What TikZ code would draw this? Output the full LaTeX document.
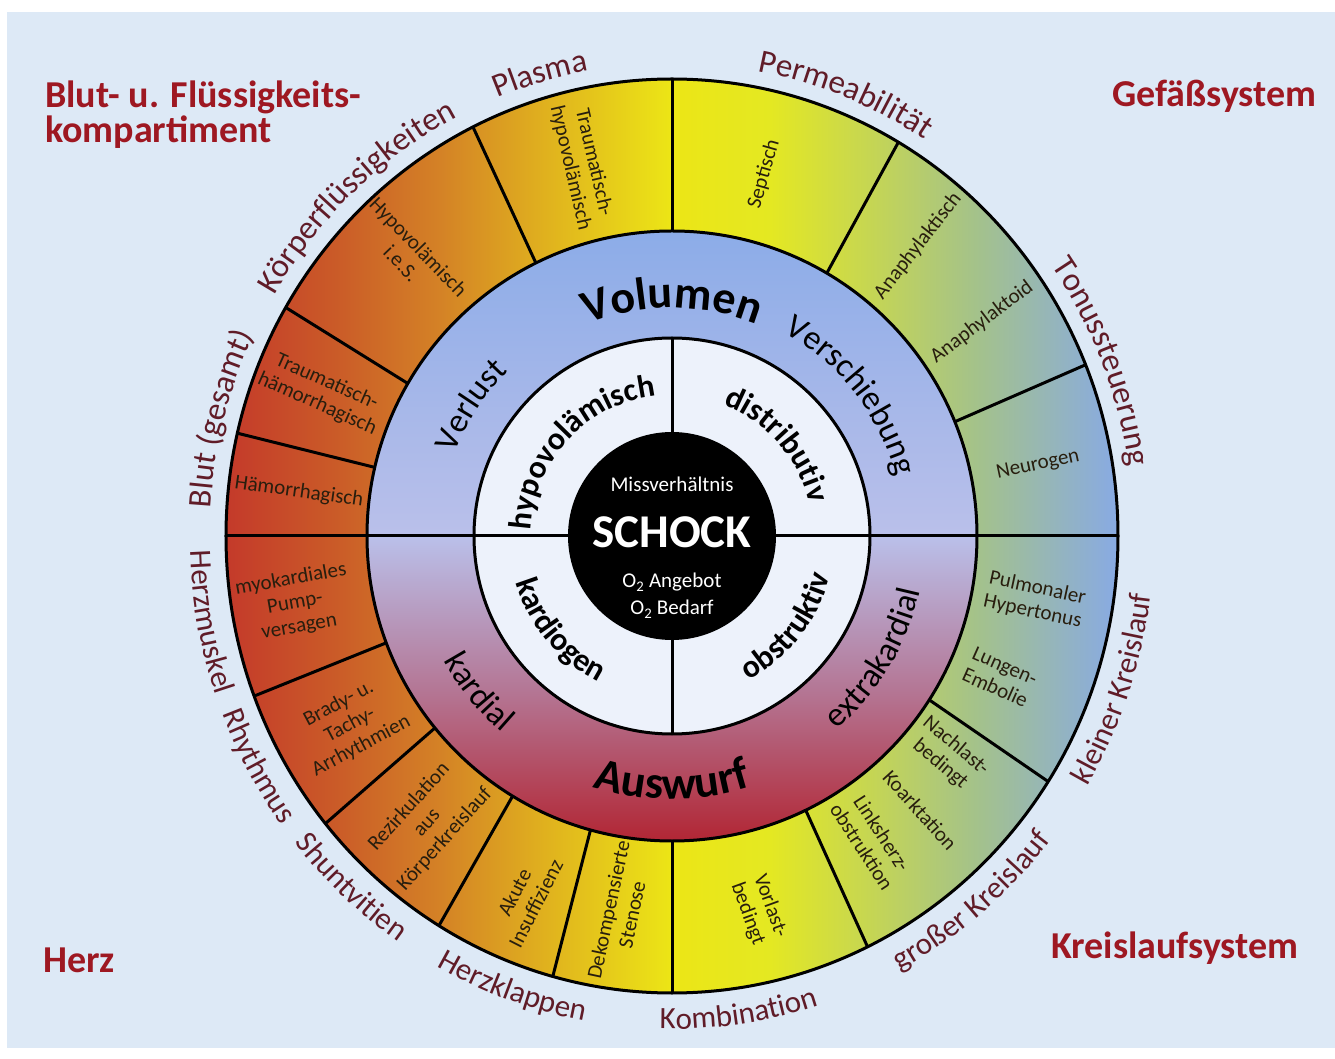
\documentclass[tikz,border=0pt]{standalone}
\usepackage{fontspec}
\setmainfont{Carlito}
\usetikzlibrary{decorations.text}

\definecolor{hintergrund}{RGB}{221,233,246}
\definecolor{weissring}{RGB}{237,242,251}
\definecolor{eckrot}{RGB}{158,24,34}
\definecolor{bogenrot}{RGB}{96,28,40}
\definecolor{zellschrift}{RGB}{40,30,14}
\definecolor{rot}{RGB}{196,58,42}
\definecolor{rotorange}{RGB}{202,90,40}
\definecolor{orangeton}{RGB}{212,130,38}
\definecolor{goldton}{RGB}{224,178,30}
\definecolor{gelb}{RGB}{236,230,22}
\definecolor{gelbhell}{RGB}{228,232,34}
\definecolor{gelbgruen}{RGB}{198,214,82}
\definecolor{graugruen}{RGB}{164,194,138}
\definecolor{blauton}{RGB}{136,170,228}
\definecolor{weinrot}{RGB}{178,38,52}
\definecolor{mauve}{RGB}{180,116,146}
\definecolor{lavendel}{RGB}{186,192,234}
\definecolor{ringblau}{RGB}{140,172,232}

\pgfdeclarehorizontalshading{aussenring}{100bp}{color(0bp)=(rot); color(25bp)=(rot); color(31bp)=(rotorange); color(37bp)=(orangeton); color(43bp)=(goldton); color(50bp)=(gelb); color(55.5bp)=(gelbhell); color(61bp)=(gelbgruen); color(67bp)=(graugruen); color(75bp)=(blauton); color(100bp)=(blauton)}
\pgfdeclareverticalshading{mittelring}{100bp}{color(0bp)=(weinrot); color(25bp)=(weinrot); color(37bp)=(mauve); color(50bp)=(lavendel); color(75bp)=(ringblau); color(100bp)=(ringblau)}

\newcommand{\aussenschrift}{\fontsize{33}{40}\selectfont\color{bogenrot}}
\newcommand{\untenschrift}{\fontsize{31}{38}\selectfont\color{bogenrot}}
\newcommand{\ringschrift}{\fontsize{34}{40}\selectfont}
\newcommand{\ringfett}{\bfseries\fontsize{46}{52}\selectfont}
\newcommand{\innenfett}{\bfseries\fontsize{32}{38}\selectfont}

% Winkel, x-Radius, y-Radius, Schrift, Text
\newcommand{\uhrbogen}[5]{\path[decorate,decoration={text along path,text align=center,text={|#4|#5}}]
  (#1+70:#2 and #3) arc[start angle=#1+70,end angle=#1-70,x radius=#2,y radius=#3];}
\newcommand{\gegenbogen}[5]{\path[decorate,decoration={text along path,text align=center,text={|#4|#5}}]
  (#1-70:#2 and #3) arc[start angle=#1-70,end angle=#1+70,x radius=#2,y radius=#3];}

\tikzset{
  linie/.style={line width=3pt,black},
  zelle/.style={font=\fontsize{21}{24}\selectfont,text=zellschrift,align=center,inner sep=0pt},
  ecke/.style={font=\bfseries\fontsize{38}{40}\selectfont,text=eckrot,anchor=base west,inner sep=0pt},
  kern/.style={text=white,anchor=base,inner sep=0pt},
}

\begin{document}
\begin{tikzpicture}[x=1pt,y=1pt]
  \useasboundingbox (-672,-523) rectangle (663,536);
  \fill[white] (-672,-523) rectangle (663,536);
  \fill[hintergrund] (-665,-512) rectangle (663,524);

  \shade[shading=aussenring] (0,0) ellipse[x radius=446,y radius=457];
  \shade[shading=mittelring] (0,0) circle[radius=305];
  \fill[weissring] (0,0) circle[radius=198];

  \draw[linie] (0,0) ellipse[x radius=446,y radius=457];
  \draw[linie] (0,0) circle[radius=305];
  \draw[linie] (0,0) circle[radius=198];
  \foreach \w in {22,59.5,90,116.5,150,167,200.5,219,238.5,254.5,270,296,327.5}
    \draw[linie] (\w:305) -- (\w:446 and 457);
  \draw[linie] (-446,0) -- (446,0);
  \draw[linie] (0,-198) -- (0,198);
  \fill[black] (0,0) circle[radius=104];

  \node[kern,font=\fontsize{21}{24}\selectfont] (missverh) at (0,44) {Missverhältnis};
  \node[kern,font=\bfseries\fontsize{47}{50}\selectfont] (schock) at (0,-12) {SCHOCK};
  \node[kern,font=\fontsize{21}{24}\selectfont] (angebot) at (0,-52) {O\textsubscript{2} Angebot};
  \node[kern,font=\fontsize{21}{24}\selectfont] (bedarf) at (0,-79) {O\textsubscript{2} Bedarf};

  \node[zelle,rotate=-77] (traumhypo) at (-90,371) {Traumatisch-\\hypovolämisch};
  \node[zelle,rotate=-46] (hypoies) at (-262,281) {Hypovolämisch\\i.e.S.};
  \node[zelle,rotate=-24] (traumhaem) at (-350,143) {Traumatisch-\\hämorrhagisch};
  \node[zelle,rotate=-8] (haem) at (-373,44) {Hämorrhagisch};
  \node[zelle,rotate=74] (septisch) at (92,362) {Septisch};
  \node[zelle,rotate=52] (anaphtisch) at (246,290) {Anaphylaktisch};
  \node[zelle,rotate=37] (anaphtoid) at (310,214) {Anaphylaktoid};
  \node[zelle,rotate=12] (neurogen) at (366,71) {Neurogen};
  \node[zelle,rotate=-12] (pulmonal) at (363,-64) {Pulmonaler\\Hypertonus};
  \node[zelle,rotate=-24] (embolie) at (328,-141) {Lungen-\\Embolie};
  \node[zelle,rotate=-40] (nachlast) at (276,-219) {Nachlast-\\bedingt};
  \node[zelle,rotate=-48] (koarkt) at (248,-274) {Koarktation};
  \node[zelle,rotate=-57] (linksherz) at (200,-304) {Linksherz-\\obstruktion};
  \node[zelle,rotate=-70] (vorlast) at (87,-374) {Vorlast-\\bedingt};
  \node[zelle,rotate=78] (stenose) at (-52,-376) {Dekompensierte\\Stenose};
  \node[zelle,rotate=63] (insuff) at (-147,-362) {Akute\\Insuffizienz};
  \node[zelle,rotate=48] (rezirk) at (-245,-287) {Rezirkulation\\aus\\Körperkreislauf};
  \node[zelle,rotate=28] (arrhyth) at (-322,-189) {Brady- u.\\Tachy-\\Arrhythmien};
  \node[zelle,rotate=10] (pumpe) at (-377,-67) {myokardiales\\Pump-\\versagen};

  \uhrbogen{90}{228}{228}{\ringfett}{Volumen}
  \uhrbogen{147}{232}{232}{\ringschrift}{Verlust}
  \uhrbogen{38}{232}{232}{\ringschrift}{Verschiebung}
  \gegenbogen{219}{260}{260}{\ringschrift}{kardial}
  \gegenbogen{329}{254}{254}{\ringschrift}{extrakardial}
  \gegenbogen{270}{263}{263}{\ringfett}{Auswurf}

  \uhrbogen{137}{141}{141}{\innenfett}{hypovolämisch}
  \uhrbogen{41}{141}{141}{\innenfett}{distributiv}
  \gegenbogen{220}{163}{163}{\innenfett}{kardiogen}
  \gegenbogen{322}{163}{163}{\innenfett}{obstruktiv}

  \uhrbogen{106}{462}{473}{\aussenschrift}{Plasma}
  \uhrbogen{133}{462}{473}{\aussenschrift}{Körperflüssigkeiten}
  \uhrbogen{165.5}{462}{473}{\aussenschrift}{Blut (gesamt)}
  \uhrbogen{68.5}{462}{473}{\aussenschrift}{Permeabilität}
  \uhrbogen{22}{462}{473}{\aussenschrift}{Tonussteuerung}
  \gegenbogen{-19}{482}{493}{\untenschrift}{kleiner Kreislauf}
  \gegenbogen{-50.5}{482}{493}{\untenschrift}{großer Kreislauf}
  \gegenbogen{-82}{482}{493}{\untenschrift}{Kombination}
  \gegenbogen{250.5}{482}{493}{\untenschrift}{Herzklappen}
  \gegenbogen{227.5}{482}{493}{\untenschrift}{Shuntvitien}
  \gegenbogen{209}{482}{493}{\untenschrift}{Rhythmus}
  \gegenbogen{190.5}{482}{493}{\untenschrift}{Herzmuskel}

  \node[ecke] (kompart1) at (-627,428) {Blut- u. Flüssigkeits-};
  \node[ecke] (kompart2) at (-627,393) {kompartiment};
  \node[ecke] (gefaess) at (440,429) {Gefäßsystem};
  \node[ecke] (herz) at (-629,-436) {Herz};
  \node[ecke] (kreislauf) at (379,-422) {Kreislaufsystem};
\end{tikzpicture}
\end{document}
